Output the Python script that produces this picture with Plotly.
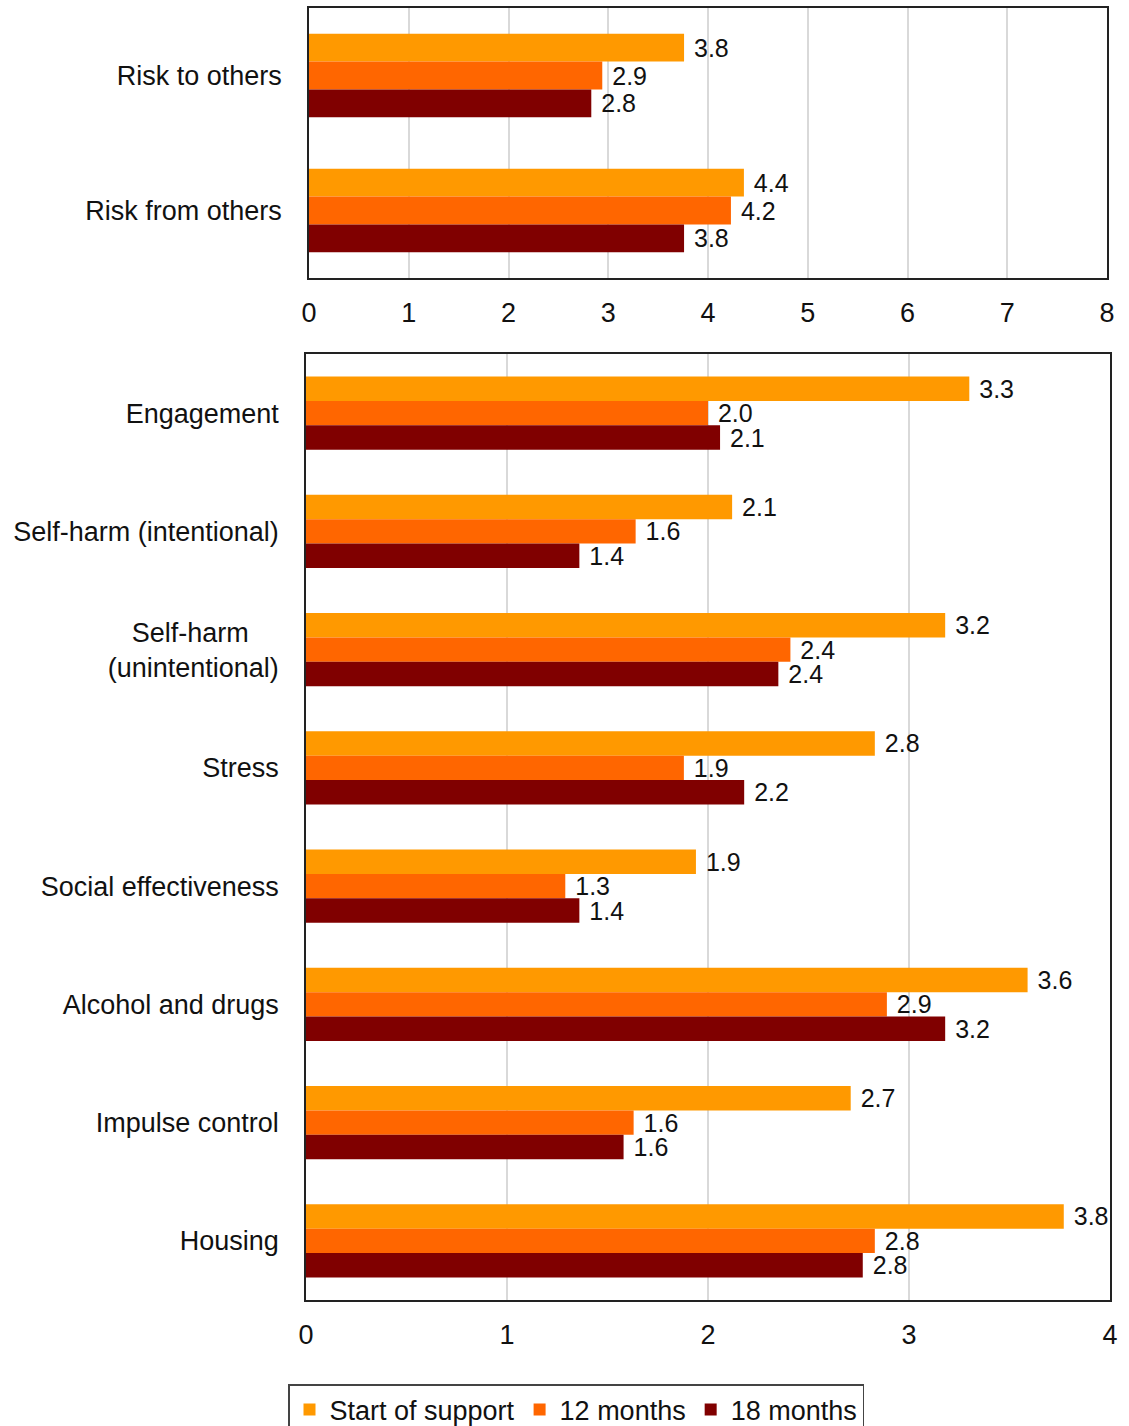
import plotly.graph_objects as go

series_names = ["Start of support", "12 months", "18 months"]
colors = ["#FF9900", "#FF6600", "#800000"]

top_categories = ["Risk to others", "Risk from others"]
top_start = [3.76, 4.36]
top_12m = [2.94, 4.23]
top_18m = [2.83, 3.76]

bottom_categories = ["Engagement", "Self-harm (intentional)", "Self-harm (unintentional)",
                     "Stress", "Social effectiveness", "Alcohol and drugs",
                     "Impulse control", "Housing"]
bottom_labels = ["Engagement", "Self-harm (intentional)",
                 "Self-harm\u00a0\u00a0\u00a0\u00a0<br>(unintentional)",
                 "Stress", "Social effectiveness", "Alcohol and drugs",
                 "Impulse control", "Housing"]
bottom_start = [3.30, 2.12, 3.18, 2.83, 1.94, 3.59, 2.71, 3.77]
bottom_12m = [2.00, 1.64, 2.41, 1.88, 1.29, 2.89, 1.63, 2.83]
bottom_18m = [2.06, 1.36, 2.35, 2.18, 1.36, 3.18, 1.58, 2.77]

top_x = [0, 1, 2, 3, 4, 5, 6, 7, 8]
bottom_x = [0, 1, 2, 3, 4]

FONT = "Liberation Sans, Arial, sans-serif"
fig = go.Figure()

top_series = [top_start, top_12m, top_18m]
bottom_series = [bottom_start, bottom_12m, bottom_18m]
for i, name in enumerate(series_names):
    fig.add_trace(go.Bar(
        y=top_categories, x=top_series[i], orientation="h", name=name,
        marker=dict(color=colors[i], line=dict(width=0)),
        texttemplate=" %{x:.1f}", textposition="outside", constraintext="none",
        textfont=dict(size=25, color="#111111", family=FONT),
        cliponaxis=False, xaxis="x", yaxis="y", showlegend=True,
        legendgroup=name))
for i, name in enumerate(series_names):
    fig.add_trace(go.Bar(
        y=bottom_categories, x=bottom_series[i], orientation="h", name=name,
        marker=dict(color=colors[i], line=dict(width=0)),
        texttemplate=" %{x:.1f}", textposition="outside", constraintext="none",
        textfont=dict(size=25, color="#111111", family=FONT),
        cliponaxis=False, xaxis="x2", yaxis="y2", showlegend=False,
        legendgroup=name))

W, H = 1129, 1426
line_common = dict(showline=True, linecolor="#222222", linewidth=1.5, mirror=True)
xtick_font = dict(size=27, color="#111111", family=FONT)
ytick_font = dict(size=27, color="#111111", family=FONT)

fig.update_layout(
    width=W, height=H,
    margin=dict(l=0, r=0, t=0, b=0, autoexpand=False),
    paper_bgcolor="white", plot_bgcolor="white",
    barmode="group", bargap=0.38, bargroupgap=0,
    font=dict(family=FONT, size=26, color="#111111"),
    xaxis=dict(domain=[309 / W, 1107 / W], anchor="y", range=[0, 8],
               tickvals=top_x, showgrid=True, gridcolor="#d9d9d9", gridwidth=1.5,
               zeroline=False, ticks="", ticklabelstandoff=10,
               tickfont=xtick_font, **line_common),
    yaxis=dict(domain=[(H - 278) / H, (H - 8) / H], anchor="x",
               autorange="reversed", showgrid=False, ticks="",
               ticklabelstandoff=20, tickfont=ytick_font, **line_common),
    xaxis2=dict(domain=[306 / W, 1110 / W], anchor="y2", range=[0, 4],
                tickvals=bottom_x, showgrid=True, gridcolor="#d9d9d9", gridwidth=1.5,
                zeroline=False, ticks="", ticklabelstandoff=10,
                tickfont=xtick_font, **line_common),
    yaxis2=dict(domain=[(H - 1300) / H, (H - 354) / H], anchor="x2",
                autorange="reversed", showgrid=False, ticks="",
                tickvals=bottom_categories, ticktext=bottom_labels,
                ticklabelstandoff=20, tickfont=ytick_font, **line_common),
    legend=dict(orientation="h", x=576 / W, xanchor="center",
                y=(H - 1384) / H, yanchor="top",
                bordercolor="#444444", borderwidth=1.5,
                font=dict(size=27, color="#111111", family=FONT),
                itemwidth=30, traceorder="normal"),
)

fig.write_html("out.html")
